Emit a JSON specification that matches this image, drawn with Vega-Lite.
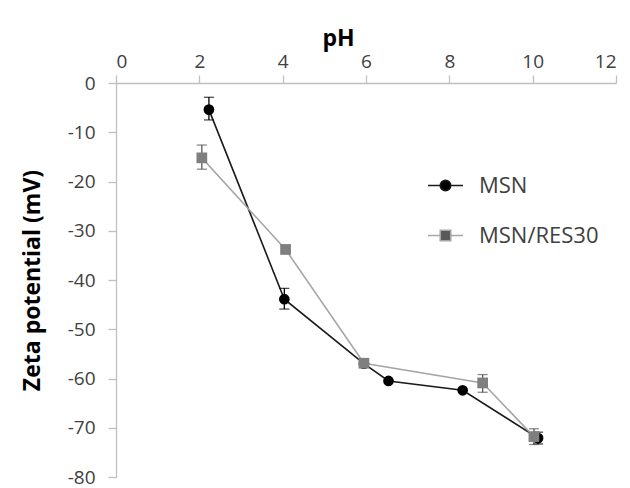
{
  "$schema": "https://vega.github.io/schema/vega-lite/v6.json",
  "width": 500,
  "height": 394,
  "autosize": {"type": "none"},
  "padding": {"left": 116, "top": 83, "right": 14, "bottom": 11},
  "background": "#ffffff",
  "config": {
    "view": {"stroke": null},
    "font": "Open Sans",
    "axis": {
      "domainColor": "#bfbfbf",
      "tickColor": "#bfbfbf",
      "domainWidth": 1.3,
      "tickWidth": 1.3,
      "tickSize": 8,
      "grid": false,
      "labelFont": "Open Sans",
      "labelFontSize": 19,
      "labelColor": "#404040",
      "titleFont": "Open Sans",
      "titleFontWeight": "bold",
      "titleFontSize": 23,
      "titleColor": "#000000"
    }
  },
  "data": {
    "values": [
      {"series": "MSN", "pH": 2.23, "zeta": -5.4, "lo": -7.5, "hi": -2.9},
      {"series": "MSN", "pH": 4.04, "zeta": -43.9, "lo": -45.9, "hi": -41.7},
      {"series": "MSN", "pH": 5.95, "zeta": -57.0, "lo": null, "hi": null},
      {"series": "MSN", "pH": 6.54, "zeta": -60.5, "lo": null, "hi": null},
      {"series": "MSN", "pH": 8.32, "zeta": -62.4, "lo": null, "hi": null},
      {"series": "MSN", "pH": 10.13, "zeta": -72.1, "lo": -73.3, "hi": -70.9},
      {"series": "MSN/RES30", "pH": 2.06, "zeta": -15.2, "lo": -17.5, "hi": -12.6},
      {"series": "MSN/RES30", "pH": 4.07, "zeta": -33.8, "lo": null, "hi": null},
      {"series": "MSN/RES30", "pH": 5.95, "zeta": -56.9, "lo": null, "hi": null},
      {"series": "MSN/RES30", "pH": 8.8, "zeta": -60.9, "lo": -62.8, "hi": -59.2},
      {"series": "MSN/RES30", "pH": 10.03, "zeta": -71.8, "lo": -73.4, "hi": -70.2}
    ]
  },
  "encoding": {
    "x": {
      "field": "pH",
      "type": "quantitative",
      "scale": {"domain": [0, 12], "nice": false, "zero": false},
      "axis": {
        "orient": "top",
        "title": "pH",
        "values": [0, 2, 4, 6, 8, 10, 12],
        "labelPadding": 4,
        "titleX": 222,
        "titleY": -45,
        "titleBaseline": "middle"
      }
    },
    "y": {
      "field": "zeta",
      "type": "quantitative",
      "scale": {"domain": [-80, 0], "nice": false, "zero": false},
      "axis": {
        "title": "Zeta potential (mV)",
        "values": [0, -10, -20, -30, -40, -50, -60, -70, -80],
        "labelExpr": "'' + datum.value",
        "labelPadding": 13,
        "titlePadding": 23
      }
    }
  },
  "layer": [
    {
      "mark": {"type": "line", "strokeWidth": 1.6},
      "encoding": {
        "color": {
          "field": "series",
          "type": "nominal",
          "scale": {"domain": ["MSN", "MSN/RES30"], "range": ["#1a1a1a", "#a6a6a6"]},
          "legend": {
            "orient": "none",
            "legendX": 311,
            "legendY": 84,
            "title": null,
            "symbolSize": 1225,
            "symbolStrokeWidth": 1.6,
            "labelFont": "Open Sans",
            "labelFontSize": 22,
            "labelColor": "#404040",
            "labelOffset": 15,
            "rowPadding": 20,
            "encode": {
              "symbols": {
                "update": {
                  "shape": {"signal": "datum.value === 'MSN' ? 'M-1,0H-0.3M0.3,0H1M-0.3,0A0.3,0.3 0 1,0 0.3,0A0.3,0.3 0 1,0 -0.3,0Z' : 'M-1,0H-0.3M0.3,0H1M-0.3,-0.3H0.3V0.3H-0.3Z'"},
                  "fill": {"signal": "datum.value === 'MSN' ? '#000000' : '#7f7f7f'"},
                  "stroke": {"signal": "datum.value === 'MSN' ? '#000000' : '#a6a6a6'"},
                  "strokeWidth": {"value": 1.6}
                }
              }
            }
          }
        }
      }
    },
    {
      "transform": [{"filter": "datum.lo != null"}],
      "mark": {"type": "rule", "strokeWidth": 1.3},
      "encoding": {
        "y": {"field": "lo", "type": "quantitative"},
        "y2": {"field": "hi"},
        "stroke": {
          "field": "series",
          "type": "nominal",
          "scale": {"domain": ["MSN", "MSN/RES30"], "range": ["#000000", "#595959"]},
          "legend": null
        }
      }
    },
    {
      "transform": [{"filter": "datum.lo != null"}],
      "mark": {"type": "tick", "orient": "horizontal", "size": 10, "thickness": 1.3},
      "encoding": {
        "y": {"field": "lo", "type": "quantitative"},
        "fill": {
          "field": "series",
          "type": "nominal",
          "scale": {"domain": ["MSN", "MSN/RES30"], "range": ["#000000", "#595959"]},
          "legend": null
        }
      }
    },
    {
      "transform": [{"filter": "datum.hi != null"}],
      "mark": {"type": "tick", "orient": "horizontal", "size": 10, "thickness": 1.3},
      "encoding": {
        "y": {"field": "hi", "type": "quantitative"},
        "fill": {
          "field": "series",
          "type": "nominal",
          "scale": {"domain": ["MSN", "MSN/RES30"], "range": ["#000000", "#595959"]},
          "legend": null
        }
      }
    },
    {
      "transform": [{"filter": "datum.series === 'MSN'"}],
      "mark": {"type": "point", "shape": "circle", "filled": true, "opacity": 1, "size": 115, "color": "#000000"},
      "encoding": {}
    },
    {
      "transform": [{"filter": "datum.series === 'MSN/RES30'"}],
      "mark": {"type": "point", "shape": "square", "filled": true, "opacity": 1, "size": 115, "color": "#7f7f7f"},
      "encoding": {}
    }
  ]
}
